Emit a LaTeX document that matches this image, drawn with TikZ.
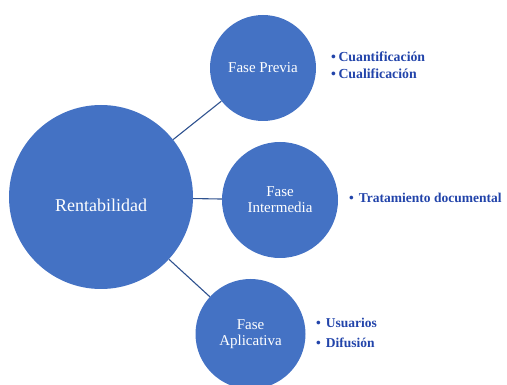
\documentclass[tikz,border=0pt]{standalone}
\usepackage{fontspec}
\setmainfont{Liberation Serif}
\usepackage{tikz}
\usepackage{xcolor}
\usetikzlibrary{positioning}

\definecolor{faseblue}{HTML}{4472C4}
\definecolor{lineblue}{HTML}{2F528F}
\definecolor{itemblue}{HTML}{2244AA}

\tikzset{
	fase/.style={circle,fill=faseblue,draw=none,inner sep=0pt,text=white,align=center,font=\fontsize{15}{16}\selectfont},
	enlace/.style={lineblue,line width=1.1pt},
	lista/.style={anchor=west,inner sep=0pt,align=left,text=itemblue,font=\bfseries\fontsize{13.8}{17}\selectfont}
}

\begin{document}
\begin{tikzpicture}[x=1pt,y=-1pt]
\useasboundingbox (0,0) rectangle (507,385);
\clip (0,0) rectangle (507,385);

\node[fase,minimum size=184pt,label={[text=white,font=\fontsize{18}{20}\selectfont,yshift=-8pt]center:Rentabilidad}] (rent) at (101,197) {};
\node[fase,minimum size=106pt] (previa) at (263,68) {Fase Previa};
\node[fase,minimum size=116pt] (inter) at (280,200) {Fase\\Intermedia};
\node[fase,minimum size=110pt] (aplic) at (250.5,334) {Fase\\Aplicativa};

\draw[enlace] (rent) -- (previa);
\draw[enlace] (rent) -- (inter);
\draw[enlace] (rent) -- (aplic);

\node[lista] (listprevia) at (331,65.5) {\textbullet\hspace{2.5pt}Cuantificación\\\textbullet\hspace{2.5pt}Cualificación};
\node[lista,font=\bfseries\fontsize{13.5}{17}\selectfont] (listinter) at (349,198) {\textbullet\hspace{5pt}Tratamiento documental};
\node[lista,font=\bfseries\fontsize{13.5}{20}\selectfont] (listaplic) at (316,333) {\textbullet\hspace{5pt}Usuarios\\\textbullet\hspace{5pt}Difusión};

\end{tikzpicture}
\end{document}
